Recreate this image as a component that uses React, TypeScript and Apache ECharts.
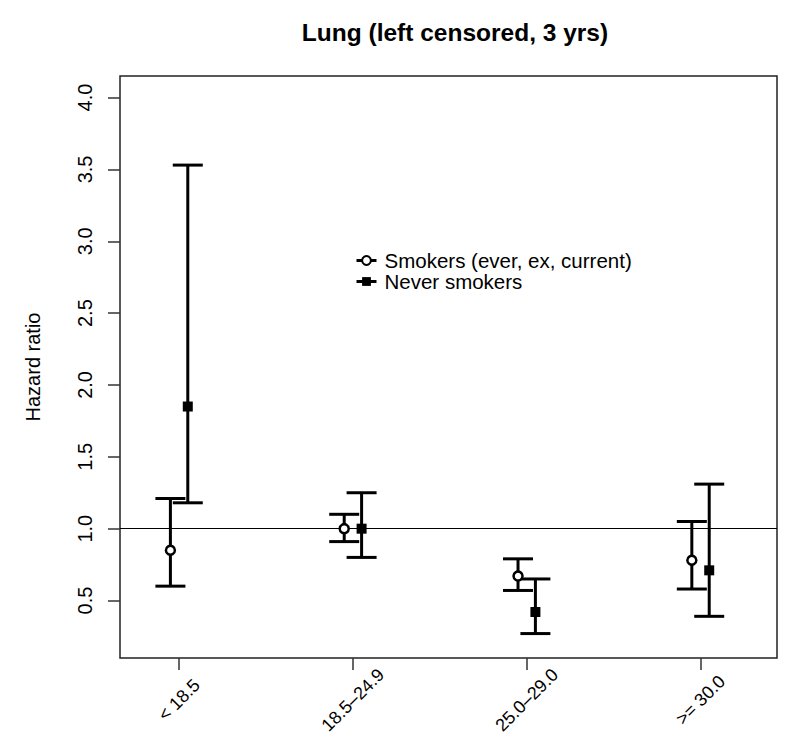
import React, { useEffect, useRef } from "react";
import * as echarts from "echarts";

const categories = ["< 18.5", "18.5\u201324.9", "25.0\u201329.0", ">= 30.0"];
const categoryPos = [1, 2, 3, 4];
const smokersHR = [0.85, 1.0, 0.67, 0.78];
const smokersLow = [0.6, 0.91, 0.57, 0.58];
const smokersHigh = [1.21, 1.1, 0.79, 1.05];
const neverHR = [1.85, 1.0, 0.42, 0.71];
const neverLow = [1.18, 0.8, 0.27, 0.39];
const neverHigh = [3.53, 1.25, 0.65, 1.31];
const yTicks = [0.5, 1.0, 1.5, 2.0, 2.5, 3.0, 3.5, 4.0];
const seriesNames = ["Smokers (ever, ex, current)", "Never smokers"];
const dodge = 0.05;
const refValue = 1.0;

const FONT = "'Liberation Sans', Arial, Helvetica, sans-serif";

export default function App() {
  const ref = useRef<HTMLDivElement>(null);
  useEffect(() => {
    if (!ref.current) return;
    const chart = echarts.init(ref.current, undefined, { renderer: "svg" });

    const smokX = categoryPos.map((p) => p - dodge);
    const neverX = categoryPos.map((p) => p + dodge);

    const errRender = (params: any, api: any) => {
      const x = api.value(0);
      const lo = api.coord([x, api.value(1)]);
      const hi = api.coord([x, api.value(2)]);
      const hw = 15;
      const style = { stroke: "#000", lineWidth: 3, fill: "none" };
      return {
        type: "group",
        children: [
          { type: "line", shape: { x1: lo[0], y1: lo[1], x2: hi[0], y2: hi[1] }, style },
          { type: "line", shape: { x1: lo[0] - hw, y1: lo[1], x2: lo[0] + hw, y2: lo[1] }, style },
          { type: "line", shape: { x1: hi[0] - hw, y1: hi[1], x2: hi[0] + hw, y2: hi[1] }, style },
        ],
      };
    };

    const option: any = {
      animation: false,
      backgroundColor: "#fff",
      textStyle: { fontFamily: FONT },
      title: {
        text: "Lung (left censored, 3 yrs)",
        left: 450,
        top: 15,
        textAlign: "center",
        textStyle: { fontFamily: FONT, fontSize: 24.5, fontWeight: "bold", color: "#000" },
      },
      legend: {
        data: seriesNames,
        orient: "vertical",
        left: 355,
        top: 250,
        padding: 0,
        itemGap: 0,
        itemWidth: 20,
        itemHeight: 11,
        textStyle: { fontFamily: FONT, fontSize: 20.5, color: "#000", lineHeight: 20, padding: [0, 0, 0, 3] },
        lineStyle: { width: 3, color: "#000", opacity: 1 },
        selectedMode: false,
      },
      grid: {
        left: 120,
        right: 23,
        top: 76,
        bottom: 95,
        show: true,
        borderColor: "#222",
        borderWidth: 1.5,
        backgroundColor: "transparent",
      },
      xAxis: {
        type: "value",
        min: 0.66,
        max: 4.44,
        axisLine: { show: false },
        splitLine: { show: false },
        axisTick: {
          show: true,
          length: 12,
          customValues: categoryPos,
          lineStyle: { color: "#333", width: 1.5 },
        },
        axisLabel: {
          customValues: categoryPos,
          formatter: (v: number) => categories[Math.round(v) - 1] ?? "",
          rotate: 45,
          align: "center",
          verticalAlign: "middle",
          margin: 42,
          fontFamily: FONT,
          fontSize: 18,
          color: "#000",
        },
      },
      yAxis: {
        type: "value",
        min: 0.1,
        max: 4.15,
        name: "Hazard ratio",
        nameLocation: "middle",
        nameRotate: 90,
        nameGap: 77,
        nameTextStyle: { fontFamily: FONT, fontSize: 20, fontWeight: "normal", color: "#000" },
        axisLine: { show: false },
        splitLine: { show: false },
        axisTick: {
          show: true,
          length: 12,
          customValues: yTicks,
          lineStyle: { color: "#333", width: 1.5 },
        },
        axisLabel: {
          customValues: yTicks,
          formatter: (v: number) => v.toFixed(1),
          rotate: 90,
          align: "center",
          verticalAlign: "middle",
          margin: 35,
          fontFamily: FONT,
          fontSize: 20,
          color: "#000",
        },
      },
      series: [
        {
          type: "custom",
          name: "smokersCI",
          renderItem: errRender,
          data: smokX.map((x, i) => [x, smokersLow[i], smokersHigh[i]]),
          z: 2,
          silent: true,
          markLine: {
            silent: true,
            symbol: "none",
            label: { show: false },
            lineStyle: { color: "#000", width: 1, type: "solid" },
            data: [{ yAxis: refValue }],
          },
        },
        {
          type: "custom",
          name: "neverCI",
          renderItem: errRender,
          data: neverX.map((x, i) => [x, neverLow[i], neverHigh[i]]),
          z: 2,
          silent: true,
        },
        {
          type: "line",
          name: seriesNames[0],
          data: smokX.map((x, i) => [x, smokersHR[i]]),
          symbol: "circle",
          symbolSize: 9,
          showSymbol: true,
          lineStyle: { width: 0, color: "#000" },
          itemStyle: { color: "#fff", borderColor: "#000", borderWidth: 2.5 },
          z: 5,
        },
        {
          type: "line",
          name: seriesNames[1],
          data: neverX.map((x, i) => [x, neverHR[i]]),
          symbol: "rect",
          symbolSize: 10,
          showSymbol: true,
          lineStyle: { width: 0, color: "#000" },
          itemStyle: { color: "#000", borderColor: "#000", borderWidth: 0 },
          z: 5,
        },
      ],
    };
    chart.setOption(option);
    return () => chart.dispose();
  }, []);
  return (
    <div
      ref={ref}
      style={{ position: "fixed", left: 0, top: 0, width: 800, height: 753, background: "#fff" }}
    />
  );
}
